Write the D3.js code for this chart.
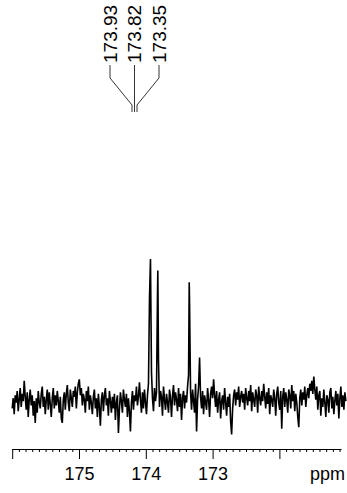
<!DOCTYPE html>
<html>
<head>
<meta charset="utf-8">
<script src="https://cdn.jsdelivr.net/npm/d3@7"></script>
<style>
  html, body { margin: 0; padding: 0; background: #fff; }
  svg { display: block; }
  text { font-family: "Liberation Sans", Arial, Helvetica, sans-serif; fill: #000; }
</style>
</head>
<body>
<svg id="chart" width="347" height="493"></svg>
<script>
// 13C spectrum, carbonyl region: intensities sampled every 0.015 ppm from 176.000 ppm upfield
const ppmStart = 176.0;
const ppmStep = 0.015;
const intensity = [
  -3, 4, -7, 6, 1, 9, -5, 3, 11, -2,
  7, 2, 16, 5, -4, 8, -9, 3, 10, -1,
  6, -8, 2, -13, 4, -6, 9, 1, -3, 7,
  12, -2, 5, -7, 3, 10, -4, 8, 0, -9,
  4, 11, -3, 6, -1, 9, 2, -6, 5, -10,
  -13, 3, 8, -4, 7, 13, 1, -5, 10, 4,
  -2, 9, 5, 12, -3, 8, 14, 17, 6, 11,
  -1, 7, 3, -6, 9, 2, 12, -4, 6, 1,
  -7, 5, 10, -3, 4, -9, 7, -2, -15, 3,
  8, -5, 6, 11, -1, 4, -8, 9, 2, -6,
  5, -3, 7, -11, 1, 6, -20, -4, 8, 2,
  -6, 10, 3, -2, 7, -9, 4, -5, -19, 1,
  9, -4, 6, 2, 12, -1, 5, 15, 3, -6,
  8, -3, 10, 1, -7, 6, 14, 72, 0, 22,
  4, -5, 11, 2, 8, 75, 30, -2, 9, 5,
  -8, 12, 3, -4, 7, 1, -6, 10, 4, -9,
  6, 13, -1, 8, 3, -5, 11, -2, 7, -11,
  4, 9, -3, 6, 1, 12, 20, 70, 8, -4,
  10, 2, -6, 14, -19, 3, 12, 32, 5, -3,
  9, -7, 6, 1, -4, 11, 3, -9, 7, 12,
  4, 17, 6, -2, 9, -6, 3, 8, -10, 2,
  6, -4, 11, 1, -8, 5, -2, 7, -12, -21,
  -3, 6, 10, -1, 8, 3, 12, -2, 5, 9,
  1, 7, -4, 11, 4, -1, 9, 2, 13, -5,
  8, 3, -2, 10, 6, -6, 12, 4, -1, 9,
  2, 14, 5, -3, 8, 0, 11, -7, 6, 3,
  -2, 10, 4, -8, 7, 12, 1, -4, 9, -17,
  5, 11, -2, 8, 3, -6, 10, 6, -3, 13,
  2, 9, -5, 7, 1, -9, -16, 4, 10, -1,
  8, 3, 12, -2, 6, 11, 4, 14, 9, 16,
  7, 19, 10, 3, 12, -4, 6, 9, -8, 4,
  -2, 10, 1, -9, 6, 3, -6, 8, 11, -3,
  5, -7, 2, 9, -1, 7, -10, 4, 12, -2,
  6, -4, 8, 2
];

// Picked peaks (ppm) and their apex intensities
const peakPpm = [173.93, 173.82, 173.35];
const peakIntensity = [100, 92, 84];

// Axis ticks
const majorTicks = [176, 175, 174, 173, 172];
const tickLabels = ["", "175", "174", "173", ""];
const axisLabel = "ppm";

const svg = d3.select("#chart");
const fontSize = 18;

const x = d3.scaleLinear().domain([176, 171]).range([12.2, 346.2]);
const y = d3.scaleLinear().domain([0, 100]).range([404, 259]);

// Merge the sampled trace with the peak apexes
const pts = new Map();
intensity.forEach((v, i) => {
  const p = ppmStart - i * ppmStep;
  pts.set(p.toFixed(3), { ppm: p, v });
});
peakPpm.forEach((p, i) => pts.set(p.toFixed(3), { ppm: p, v: peakIntensity[i] }));
const trace = Array.from(pts.values()).sort((a, b) => b.ppm - a.ppm);

svg.append("path")
  .datum(trace)
  .attr("fill", "none")
  .attr("stroke", "#000")
  .attr("stroke-width", 1.6)
  .attr("stroke-linejoin", "bevel")
  .attr("d", d3.line().x(d => x(d.ppm)).y(d => y(d.v)));

// ppm axis
const axisY = 449;
const axisG = svg.append("g").attr("transform", `translate(0,${axisY})`);
const minorTicks = d3.range(1760, 1710, -1).map(d => d / 10).filter(d => !majorTicks.includes(d));

axisG.append("g")
  .call(d3.axisBottom(x).tickValues(minorTicks).tickSize(3).tickFormat(""))
  .call(g => g.select(".domain").remove());

axisG.append("g")
  .call(d3.axisBottom(x).tickValues(majorTicks).tickSize(10).tickPadding(8)
    .tickFormat((d, i) => tickLabels[i]))
  .call(g => g.select(".domain").remove())
  .call(g => g.selectAll("text").attr("font-size", fontSize)
    .attr("font-family", "'Liberation Sans', Arial, sans-serif"));

axisG.selectAll(".tick line").attr("stroke", "#000").attr("stroke-width", 1);

axisG.append("line")
  .attr("x1", x(176)).attr("x2", x(171.07))
  .attr("y1", 0.5).attr("y2", 0.5)
  .attr("stroke", "#000").attr("stroke-width", 1);

svg.append("text")
  .attr("x", 345).attr("y", 480)
  .attr("text-anchor", "end")
  .attr("font-size", fontSize)
  .text(axisLabel);

// Peak labels with leader lines
const labelCenter = 134.5, labelPitch = 24.5, footPitch = 2.5;
const labelBase = 63;
const labels = svg.append("g");
peakPpm.forEach((p, i) => {
  const k = i - (peakPpm.length - 1) / 2;
  const lx = labelCenter + k * labelPitch;
  const fx = labelCenter + k * footPitch;
  labels.append("text")
    .attr("transform", `translate(${lx},${labelBase}) rotate(-90)`)
    .attr("dy", "0.36em")
    .attr("font-size", fontSize + 1)
    .text(p.toFixed(2));
  labels.append("path")
    .attr("fill", "none")
    .attr("stroke", "#000")
    .attr("stroke-width", 0.8)
    .attr("d", `M${lx},${labelBase + 2}V78L${fx},105V112`);
});
</script>
</body>
</html>
